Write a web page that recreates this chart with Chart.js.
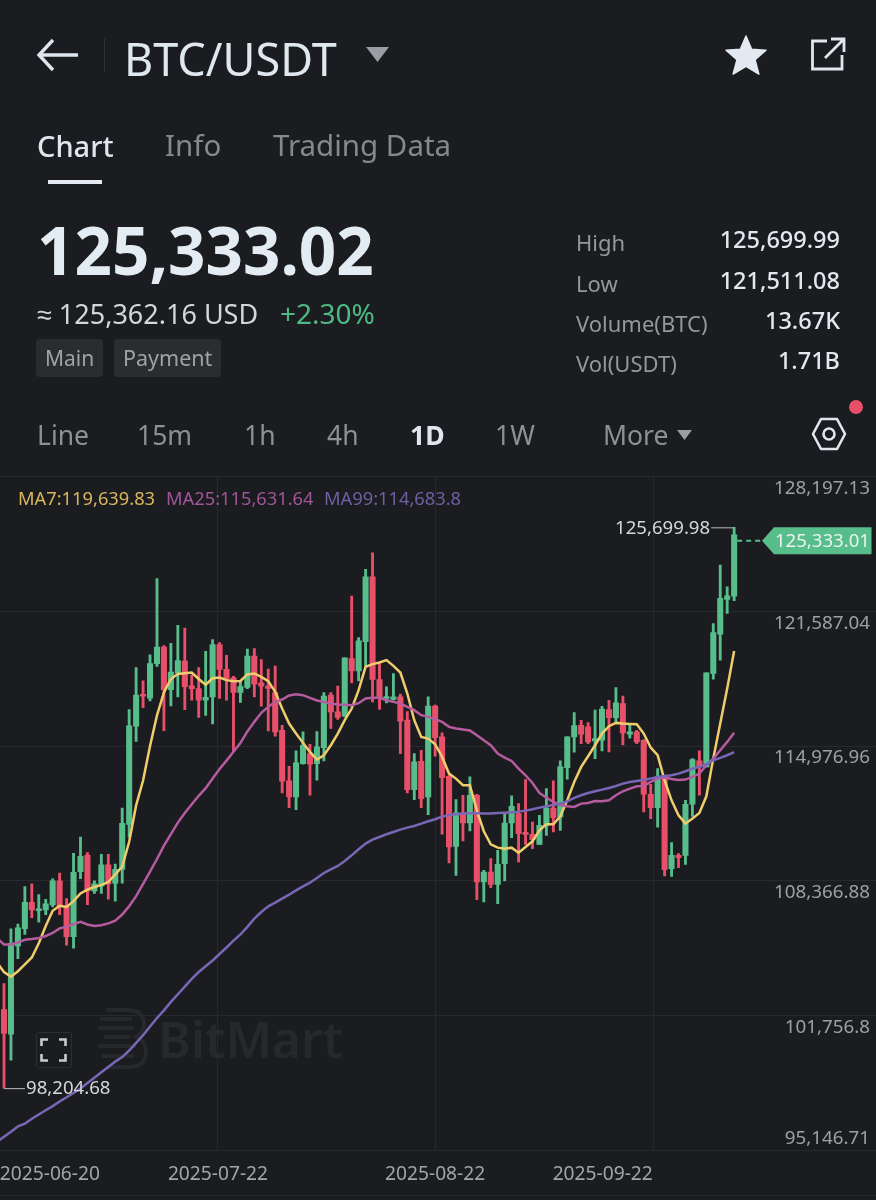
<!DOCTYPE html>
<html>
<head>
<meta charset="utf-8">
<title>BTC/USDT</title>
<script src="https://cdn.jsdelivr.net/npm/chart.js@4/dist/chart.umd.min.js"></script>
<style>
  html, body { margin: 0; background: #1b1c1f; }
  body { position: relative; width: 876px; height: 1200px; overflow: hidden; font-family: "Noto Sans", sans-serif; }
  canvas { position: absolute; left: 0; top: 0; z-index: 1; }
  .t { position: absolute; white-space: nowrap; line-height: 1; z-index: 2; transform: translateY(-50%); }
  .r { transform: translate(-100%, -50%); }
  .tf { font-size: 26.5px; color: #8d9094; top: 435px; }
  .stat { font-size: 22px; color: #94979b; left: 576px; }
  .val { font-size: 23.5px; font-weight: 500; color: #e3e8ee; left: 840px; }
  .badge { position: absolute; top: 339px; height: 38px; background: #2a2c30; border-radius: 4px; z-index: 2; }
  svg { position: absolute; z-index: 2; }
</style>
</head>
<body>

<!-- header -->
<svg style="left:36px;top:38px" width="44" height="34" viewBox="0 0 44 34"><path d="M17 2 L3 17 L17 32 M3 17 H42" fill="none" stroke="#dfe6ee" stroke-width="3.4"/></svg>
<div style="position:absolute;left:104px;top:38px;width:1px;height:34px;background:#2f3134"></div>
<div class="t" style="left:124px;top:58px;font-size:45px;color:#dfe7ef">BTC/USDT</div>
<svg style="left:366px;top:47px" width="23" height="16"><path d="M0 0 H23 L11.5 15 Z" fill="#9a9da1"/></svg>
<svg style="left:725px;top:35px" width="42" height="40" viewBox="0 0 44 42"><path d="M22 1 L28 15 L43 16 L31.5 26 L35.5 41 L22 33 L8.5 41 L12.5 26 L1 16 L16 15 Z" fill="#e3e9f0" stroke="#e3e9f0" stroke-width="1.5" stroke-linejoin="round"/></svg>
<svg style="left:810px;top:37px" width="36" height="34" viewBox="0 0 36 34"><path d="M17 4 H2.5 V32 H32 V18 M21 2 H34 V15 M34 2 L15 21" fill="none" stroke="#dfe6ee" stroke-width="2.8"/></svg>

<div class="t" style="left:37px;top:145px;font-size:29px;font-weight:500;color:#dfe6ee">Chart</div>
<div class="t" style="left:165px;top:145px;font-size:29.5px;color:#85888c">Info</div>
<div class="t" style="left:273px;top:145px;font-size:29.5px;color:#85888c">Trading Data</div>
<div style="position:absolute;left:48px;top:180px;width:54px;height:4px;background:#e3e9f0;z-index:2"></div>

<div class="t" style="left:37px;top:250px;font-size:65.5px;font-weight:700;color:#e3ebf3">125,333.02</div>
<div class="t" style="left:37px;top:313px;font-size:27px;color:#d3d7dc">≈ 125,362.16 USD</div>
<div class="t" style="left:280px;top:313px;font-size:28px;color:#4fb985">+2.30%</div>
<div class="badge" style="left:36px;width:67px"></div>
<div class="badge" style="left:114px;width:107px"></div>
<div class="t" style="left:45px;top:358px;font-size:21px;color:#9fa2a6">Main</div>
<div class="t" style="left:123px;top:358px;font-size:21.5px;color:#9fa2a6">Payment</div>

<div class="t stat" style="top:242px">High</div>
<div class="t stat" style="top:283px">Low</div>
<div class="t stat" style="top:323px">Volume(BTC)</div>
<div class="t stat" style="top:363px">Vol(USDT)</div>
<div class="t r val" style="top:240px">125,699.99</div>
<div class="t r val" style="top:281px">121,511.08</div>
<div class="t r val" style="top:321px">13.67K</div>
<div class="t r val" style="top:361px">1.71B</div>

<div class="t tf" style="left:37px">Line</div>
<div class="t tf" style="left:137px">15m</div>
<div class="t tf" style="left:244px">1h</div>
<div class="t tf" style="left:327px">4h</div>
<div class="t tf" style="left:410px;font-weight:700;color:#dfe6ee">1D</div>
<div class="t tf" style="left:495px">1W</div>
<div class="t tf" style="left:603px">More</div>
<svg style="left:677px;top:430px" width="15" height="10"><path d="M0 0 H15 L7.5 10 Z" fill="#9a9da1"/></svg>
<svg style="left:811px;top:416px" width="36" height="36" viewBox="0 0 36 36"><path d="M10 3 H26 L34 18 L26 33 H10 L2 18 Z" fill="none" stroke="#dfe6ee" stroke-width="2.6" stroke-linejoin="round"/><circle cx="18" cy="18" r="5.5" fill="none" stroke="#dfe6ee" stroke-width="2.6"/></svg>
<div style="position:absolute;left:849px;top:400px;width:14px;height:14px;border-radius:50%;background:#e8506a;z-index:2"></div>

<!-- MA legend -->
<div class="t" style="left:18px;top:498px;font-size:18.3px;color:#d9b75f">MA7:119,639.83</div>
<div class="t" style="left:166px;top:498px;font-size:18.3px;color:#a0559a">MA25:115,631.64</div>
<div class="t" style="left:324px;top:498px;font-size:18.3px;color:#6f5fa3">MA99:114,683.8</div>

<!-- watermark, sits under the canvas -->
<svg style="left:96px;top:1007px;z-index:0" width="52" height="62" viewBox="0 0 52 62"><path d="M10 3 H32 Q48 3 48 17 Q48 26 40 30 Q50 34 50 45 Q50 60 32 60 H10 M4 12 H36 M2 21 H38 M8 30 H34 M2 39 H40 M6 49 H38" fill="none" stroke="#26282b" stroke-width="4"/></svg>
<div class="t" style="left:158px;top:1039px;font-size:50px;font-weight:600;color:#26282b;z-index:0">BitMart</div>

<!-- fullscreen button -->
<div style="position:absolute;left:36px;top:1032px;width:34px;height:34px;border:1px solid #2b2d30;border-radius:2px;z-index:2"></div>
<svg style="left:40px;top:1038px" width="27" height="24" viewBox="0 0 27 24"><path d="M8 1.5 H1.5 V8 M19 1.5 H25.5 V8 M8 22.5 H1.5 V16 M19 22.5 H25.5 V16" fill="none" stroke="#c7ccd1" stroke-width="2.6"/></svg>
<div style="position:absolute;left:0;top:1195px;width:876px;height:1px;background:#26282b;z-index:2"></div>

<canvas id="klineChart" width="876" height="1200"></canvas>

<script>
// daily candles
const open = [102058,100856,105175,106020,107315,106902,106940,107184,108367,107127,105625,108818,109625,107879,108123,109156,108255,108931,111128,115955,117513,117325,119015,119823,117739,118546,119147,117926,117795,117231,117382,119955,118734,118321,117607,117851,119384,118076,117912,117600,115753,113267,112482,114117,114608,114117,114902,117471,116653,116440,119270,118665,120088,123277,118239,117307,117258,117389,116244,112841,114232,112482,116931,115426,113496,110061,111697,111206,112564,108311,108801,108195,109209,111205,111663,110714,110649,110158,111090,111941,111499,113920,115425,115998,115916,115229,115262,116766,116374,117061,115556,115671,115262,112612,111957,113462,108964,109618,109618,112121,114247,113953,118533,120463,122164,122328];
const high = [103334,106020,106245,108086,108217,107691,107466,108461,108743,107504,109719,110508,109757,108367,109663,109663,109194,111935,116762,118828,118170,119447,123185,119898,120011,120894,120762,118452,118828,119616,120199,120048,119429,118396,118170,119729,119760,119221,118746,118894,115998,113987,114739,115671,115066,115688,117601,117601,117912,119302,122329,120300,123637,124455,119024,117879,118534,117520,116669,114608,114772,117389,116980,115622,113545,112351,112564,113463,112613,108883,109455,109864,111630,112530,112153,113331,111254,111581,112890,113266,114247,115425,116619,116243,116129,116734,116930,117224,117846,117421,115998,115752,115295,113103,113871,113544,110240,109700,112317,114362,114738,118566,120987,123849,122786,125699.98];
const low = [98204.68,99578,104555,105738,106564,106339,106714,107090,106714,105212,105062,108480,107203,107747,107747,107466,107372,108255,110508,115203,116856,117194,118884,115729,116950,117382,116762,117231,116386,116480,116067,117306,117231,114696,117119,117795,117389,116931,115720,115458,112678,111958,111860,114085,112564,113300,114248,115835,116276,116407,118076,118174,118894,117143,116767,117094,117225,114608,112678,112351,111958,111614,114477,110650,109243,108637,110323,110813,107444,107329,108032,107246,108359,110486,109291,110158,109946,110158,110600,110763,110845,113348,114673,115098,115098,114362,114738,114689,116161,115033,115360,115098,111745,111418,110998,108604,108588,109013,109177,111532,112563,113953,118255,119187,121477,122099];
const close = [100893,105306,106058,107315,106940,106977,107240,108367,107090,105625,108780,109569,107879,108217,109156,108217,108931,111184,115973,117476,117419,119015,119823,117739,118602,119166,117889,117795,117231,117363,119955,118734,118264,117607,117889,119391,118010,117912,117798,115671,113250,112482,114150,115017,114085,114935,117421,116653,116375,119302,118665,120137,123277,118239,117307,117389,117389,116195,112841,114199,112400,116931,115393,113430,110028,111697,111206,112564,108311,108801,108195,109177,111205,112023,110682,110649,110387,111090,111941,111467,113953,115425,115981,115556,115179,115343,116783,116374,117094,115621,115671,115179,112612,111957,113462,108915,109618,109504,112121,114313,113953,118566,120545,122213,122344,125333.01];

// moving averages, first value belongs to the candle just off the left edge
const ma7 = [104367,103898,103672,103935,104273,104612,105306,106151,106902,107147,107090,107372,107747,107935,108067,108160,108311,108687,109062,110283,112067,113288,114978,116480,117607,118264,118509,118546,118584,118264,117982,118302,118339,118208,118152,118170,118490,118534,118370,118158,117634,116816,116080,115590,115132,114690,114314,114526,115017,115590,116244,116816,117716,118861,118992,119073,119188,118910,118583,117552,116244,115426,115344,115066,114444,113626,113381,113054,113054,111827,110800,110158,109995,109945,109995,109749,110028,110306,110845,111139,111139,111532,112317,113217,113953,114477,115016,115589,115949,116112,116079,116063,116047,115589,114902,114526,113299,112317,111581,111172,111418,111696,112514,114362,116079,117797,119639.83];
const ma25 = [105550,105250,105250,105344,105475,105513,105569,105663,105813,106038,106114,106245,106358,106226,106151,106189,106283,106414,106715,107128,107616,108217,108818,109438,110095,110658,111222,111691,112123,112536,112912,113381,113851,114264,114696,115128,115691,116162,116604,116898,117143,117258,117454,117520,117471,117340,117209,117143,117062,117013,116996,116980,117078,117307,117340,117340,117225,117143,117062,116898,116734,116489,116407,116293,116162,115917,115835,115786,115737,115508,115262,115017,114607,114411,114248,113871,113544,113168,112677,112448,112236,112088,112023,111990,112154,112186,112285,112268,112317,112563,112759,112890,113004,113021,113217,113381,113430,113364,113315,113332,113462,113626,114035,114362,114771,115180,115631.64];
const ma99 = [95578,95822,96067,96329,96461,96705,96912,97118,97325,97550,97757,97964,98190,98452,98715,98978,99241,99504,99729,100049,100423,100799,101231,101644,102020,102433,102809,103183,103560,103898,104179,104461,104780,105100,105438,105738,106114,106511,106839,107116,107296,107493,107689,107902,108098,108278,108507,108752,108932,109096,109341,109619,109914,110192,110388,110519,110650,110764,110879,110977,111059,111173,111288,111386,111517,111582,111631,111664,111680,111680,111664,111664,111696,111712,111729,111761,111810,111875,111957,112023,112088,112154,112268,112432,112563,112677,112759,112841,112923,113021,113135,113217,113266,113315,113381,113462,113511,113544,113626,113741,113871,113953,114084,114280,114395,114526,114683.8];

// axes
const priceTicks = [128197.13, 121587.04, 114976.96, 108366.88, 101756.8, 95146.71];
const priceLabels = ['128,197.13', '121,587.04', '114,976.96', '108,366.88', '101,756.8', '95,146.71'];
const gridCandles = [30.77, 62.1, 93.45];
const dateCandles = [6.6, 30.77, 62.0, 86.1];
const dateLabels = ['2025-06-20', '2025-07-22', '2025-08-22', '2025-09-22'];
const highLabel = '125,699.98';
const lowLabel = '98,204.68';
const lastLabel = '125,333.01';

const GREEN = '#56bd8b';
const RED = '#e8506a';
const GRID = '#27292c';
const FONT = '"Noto Sans", sans-serif';

const candleColor = open.map((o, i) => close[i] >= o ? GREEN : RED);
const lineData = (arr) => arr.map((v, i) => ({ x: i - 1, y: v }));

// axis labels must not push the plot area in
const noMargins = (axis) => {
  axis.paddingLeft = 0;
  axis.paddingRight = 0;
  axis.paddingTop = 0;
  axis.paddingBottom = 0;
};

// high / low leader lines and the last price tag
const marksPlugin = {
  id: 'marks',
  afterDatasetsDraw(chart) {
    const { ctx, scales } = chart;
    const last = close.length - 1;
    const lowIdx = low.indexOf(Math.min(...low));
    const hx = scales.x.getPixelForValue(last);
    const hy = scales.y.getPixelForValue(high[last]);
    const lx = scales.x.getPixelForValue(lowIdx);
    const ly = scales.y.getPixelForValue(low[lowIdx]);
    const py = scales.y.getPixelForValue(close[last]) + 6;

    ctx.save();
    ctx.strokeStyle = '#b9bcbf';
    ctx.lineWidth = 1;
    ctx.beginPath();
    ctx.moveTo(hx, hy + 0.5);
    ctx.lineTo(hx - 23, hy + 0.5);
    ctx.moveTo(lx, ly + 0.5);
    ctx.lineTo(lx + 21, ly + 0.5);
    ctx.stroke();

    ctx.font = '18.6px ' + FONT;
    ctx.fillStyle = '#d5d8db';
    ctx.textBaseline = 'middle';
    ctx.textAlign = 'right';
    ctx.fillText(highLabel, hx - 24, hy + 1);
    ctx.textAlign = 'left';
    ctx.fillText(lowLabel, lx + 22, ly + 1);

    // dotted line to the tag
    ctx.strokeStyle = GREEN;
    ctx.lineWidth = 2;
    ctx.setLineDash([5, 4]);
    ctx.beginPath();
    ctx.moveTo(hx + 3, py);
    ctx.lineTo(762, py);
    ctx.stroke();
    ctx.setLineDash([]);

    ctx.fillStyle = GREEN;
    ctx.beginPath();
    ctx.moveTo(762, py);
    ctx.lineTo(774, py - 13.5);
    ctx.lineTo(871.5, py - 13.5);
    ctx.lineTo(871.5, py + 13.5);
    ctx.lineTo(774, py + 13.5);
    ctx.closePath();
    ctx.fill();

    ctx.fillStyle = '#eaf3ee';
    ctx.textAlign = 'right';
    ctx.fillText(lastLabel, 870, py + 1);
    ctx.restore();
  }
};

const xMin = -0.575;
const xMax = 125.4;

new Chart(document.getElementById('klineChart').getContext('2d'), {
  type: 'bar',
  data: {
    datasets: [
      { type: 'line', label: 'MA7', data: lineData(ma7), borderColor: '#f0cd6c', borderWidth: 2.5, pointRadius: 0, order: 3 },
      { type: 'line', label: 'MA25', data: lineData(ma25), borderColor: '#b65ba0', borderWidth: 2.5, pointRadius: 0, order: 2 },
      { type: 'line', label: 'MA99', data: lineData(ma99), borderColor: '#7a66b6', borderWidth: 2.5, pointRadius: 0, order: 1 },
      { label: 'wick', data: high.map((h, i) => ({ x: i, y: [low[i], h] })), backgroundColor: candleColor, barThickness: 2.2, grouped: false, order: 5 },
      { label: 'body', data: open.map((o, i) => ({ x: i, y: [o, close[i]] })), backgroundColor: candleColor, barThickness: 5.4, minBarLength: 2, grouped: false, order: 4 }
    ]
  },
  options: {
    responsive: false,
    animation: false,
    layout: { padding: { top: 476.4 } },
    plugins: {
      legend: { display: false },
      tooltip: { enabled: false }
    },
    scales: {
      x: {
        type: 'linear',
        min: xMin,
        max: xMax,
        offset: false,
        border: { display: false },
        grid: { color: GRID, offset: false, drawTicks: false },
        ticks: { display: false },
        afterBuildTicks: (axis) => { axis.ticks = gridCandles.map((v) => ({ value: v })); },
        afterFit: (axis) => { axis.height = 0; noMargins(axis); }
      },
      dates: {
        type: 'linear',
        axis: 'x',
        position: 'bottom',
        min: xMin,
        max: xMax,
        offset: false,
        border: { display: false },
        grid: { display: false, offset: false, drawTicks: false },
        ticks: {
          autoSkip: false,
          maxRotation: 0,
          padding: 13,
          color: '#a2a5a8',
          font: { family: FONT, size: 19.2 },
          callback: (value, index) => dateLabels[index]
        },
        afterBuildTicks: (axis) => { axis.ticks = dateCandles.map((v) => ({ value: v })); },
        afterFit: (axis) => { axis.height = 49.5; noMargins(axis); }
      },
      y: {
        type: 'linear',
        position: 'right',
        min: priceTicks[5],
        max: priceTicks[0],
        border: { display: false },
        grid: { color: GRID, drawTicks: false },
        ticks: {
          mirror: true,
          padding: -6,
          labelOffset: 12,
          color: '#9da0a3',
          font: { family: FONT, size: 18.8 },
          callback: (value, index) => index < 5 ? priceLabels[index] : ''
        },
        afterBuildTicks: (axis) => { axis.ticks = priceTicks.map((v) => ({ value: v })); },
        afterFit: (axis) => { axis.width = 0; noMargins(axis); }
      },
      // the lowest label sits above its grid line, so it gets its own axis
      yBottom: {
        type: 'linear',
        axis: 'y',
        position: 'right',
        min: priceTicks[5],
        max: priceTicks[0],
        border: { display: false },
        grid: { display: false, drawTicks: false },
        ticks: {
          mirror: true,
          padding: -6,
          labelOffset: -12,
          color: '#9da0a3',
          font: { family: FONT, size: 18.8 },
          callback: (value, index) => priceLabels[5]
        },
        afterBuildTicks: (axis) => { axis.ticks = [{ value: priceTicks[5] }]; },
        afterFit: (axis) => { axis.width = 0; noMargins(axis); }
      }
    }
  },
  plugins: [marksPlugin]
});
</script>
</body>
</html>
